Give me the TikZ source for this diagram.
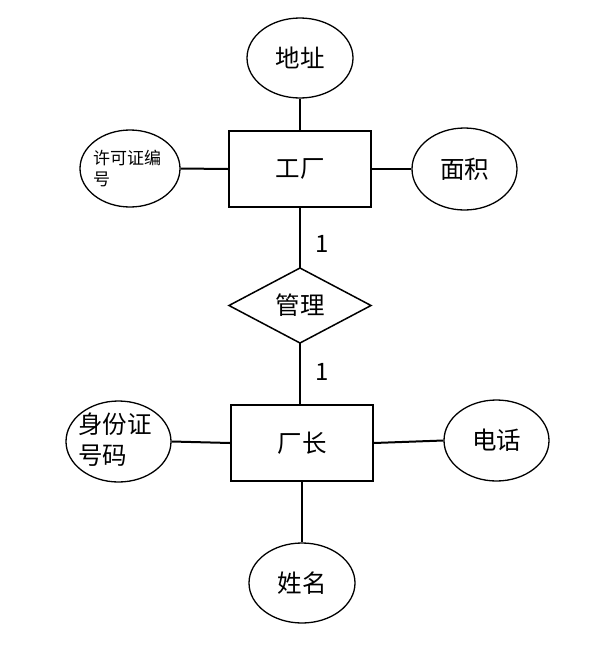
\documentclass[tikz,border=0pt]{standalone}
\usepackage{fontspec}
\setmainfont{Noto Sans CJK SC}
\usetikzlibrary{shapes.geometric}
\begin{document}
\begin{tikzpicture}[x=1pt,y=-1pt,
  ent/.style={draw,line width=2pt,minimum width=142pt,minimum height=76pt,inner sep=0pt,font=\fontsize{24.5}{29}\selectfont},
  attr/.style={draw,ellipse,line width=1.3pt,minimum width=106pt,minimum height=80pt,inner sep=0pt,font=\fontsize{24.5}{29}\selectfont},
  rel/.style={draw,diamond,line width=1.5pt,minimum width=142pt,minimum height=75pt,inner sep=0pt,outer sep=0pt,font=\fontsize{24.5}{29}\selectfont},
  conn/.style={line width=2pt},
  card/.style={font=\fontsize{24}{28}\selectfont,inner sep=0pt}]
\useasboundingbox (0,0) rectangle (613,654);
\node[ent] (gc) at (300,169) {工厂};
\node[ent] (cz) at (302,443) {厂长};
\node[rel] (gl) at (300,305.5) {管理};
\node[attr] (dz) at (300,58) {地址};
\node[attr,minimum width=100pt,minimum height=77pt] (xk) at (130,168.5) {};
\node[font=\fontsize{17}{21}\selectfont,align=left,inner sep=0pt,anchor=north west] (xkt) at (93,149.5) {许可证编\\号};
\node[attr,minimum width=105pt,minimum height=82pt] (mj) at (464.5,169) {面积};
\node[attr,minimum width=105pt,minimum height=81pt] (sf) at (118.5,441.5) {};
\node[font=\fontsize{24.5}{31}\selectfont,align=left,inner sep=0pt,anchor=north west] (sft) at (78,413) {身份证\\号码};
\node[attr,minimum width=105pt,minimum height=81pt] (dh) at (496.5,440.5) {电话};
\node[attr,minimum width=106pt,minimum height=80pt] (xm) at (302,583) {姓名};
\draw[conn] (dz.south) -- (gc.north);
\draw[conn] (xk.east) -- (gc.west);
\draw[conn] (mj.west) -- (gc.east);
\draw[conn] (gc.south) -- (gl.north);
\draw[conn] (gl.south) -- (cz.north -| gl.south);
\draw[conn] (sf.east) -- (cz.west);
\draw[conn] (dh.west) -- (cz.east);
\draw[conn] (cz.south) -- (xm.north);
\node[card] (c1) at (322,244) {1};
\node[card] (c2) at (322,372) {1};
\end{tikzpicture}
\end{document}
